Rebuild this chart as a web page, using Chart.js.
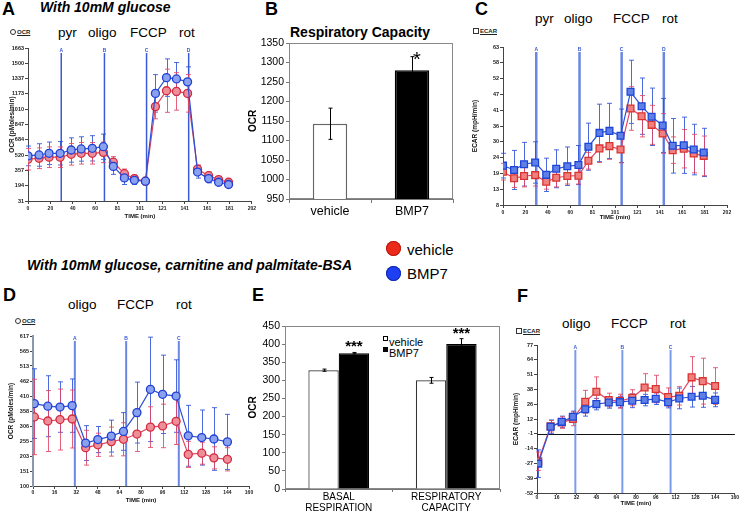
<!DOCTYPE html>
<html><head><meta charset="utf-8">
<script src="https://cdn.jsdelivr.net/npm/chart.js@4.4.1/dist/chart.umd.min.js"></script>
<style>
html,body{margin:0;padding:0;background:#fff}
#fig{position:relative;width:741px;height:513px;overflow:hidden;font-family:'Liberation Sans',Arial,sans-serif;color:#000}
#fig canvas{position:absolute}
.t{position:absolute;white-space:nowrap;line-height:1}
.L{font-weight:bold;font-size:18px}
.ti{font-weight:bold;font-style:italic;font-size:14px}
.d{font-size:13.5px}
.dot{position:absolute;border-radius:50%;width:15px;height:15px}
.lg{font-size:15px}
.sm{font-size:6px;font-weight:bold;color:#222}
.sm u{text-decoration:underline}
.ci{display:inline-block;width:4px;height:4px;border:1px solid #333;border-radius:50%;margin-right:1px;vertical-align:-1px}
.sq{display:inline-block;width:4px;height:4px;border:1px solid #333;margin-right:1px;vertical-align:-1px}
.el{font-size:11px}
.es{display:inline-block;width:3px;height:3px;border:1px solid #000;vertical-align:5px;margin-right:1px}
</style></head><body><div id="fig">

<div class="t L" style="left:2px;top:0px">A</div>
<div class="t ti" style="left:40px;top:0px">With 10mM glucose</div>
<div class="t L" style="left:265px;top:0px">B</div>
<div class="t" style="left:290px;top:25px;font-weight:bold;font-size:14px">Respiratory Capacity</div>
<div class="t L" style="left:475px;top:0px">C</div>

<div class="t d" style="left:58px;top:26px">pyr</div>
<div class="t d" style="left:88px;top:26px">oligo</div>
<div class="t d" style="left:130px;top:26px">FCCP</div>
<div class="t d" style="left:179px;top:26px">rot</div>

<div class="t d" style="left:535px;top:12px">pyr</div>
<div class="t d" style="left:564px;top:12px">oligo</div>
<div class="t d" style="left:613px;top:12px">FCCP</div>
<div class="t d" style="left:662px;top:12px">rot</div>

<div class="t sm" style="left:10px;top:29px"><span class="ci"></span><u>OCR</u></div>
<div class="t sm" style="left:473px;top:28px"><span class="sq"></span><u>ECAR</u></div>

<div class="dot" style="left:386px;top:241px;background:#ec2a1c;box-shadow:inset 0 0 0 1px #b81a10"></div>
<div class="t lg" style="left:407px;top:242px">vehicle</div>
<div class="dot" style="left:386px;top:266px;background:#1f3ff2;box-shadow:inset 0 0 0 1px #1228b0"></div>
<div class="t lg" style="left:407px;top:266px">BMP7</div>

<div class="t ti" style="left:27px;top:258px">With 10mM glucose, carnitine and palmitate-BSA</div>
<div class="t L" style="left:3px;top:286px">D</div>
<div class="t L" style="left:252px;top:286px">E</div>
<div class="t L" style="left:517px;top:287px">F</div>

<div class="t d" style="left:68px;top:298px">oligo</div>
<div class="t d" style="left:117px;top:298px">FCCP</div>
<div class="t d" style="left:176px;top:298px">rot</div>

<div class="t d" style="left:562px;top:317px">oligo</div>
<div class="t d" style="left:611px;top:317px">FCCP</div>
<div class="t d" style="left:670px;top:317px">rot</div>

<div class="t sm" style="left:15px;top:318px"><span class="ci"></span><u>OCR</u></div>
<div class="t sm" style="left:516px;top:328px"><span class="sq"></span><u>ECAR</u></div>

<div class="t el" style="left:383px;top:336px"><span class="es" style="background:#fff"></span>vehicle</div>
<div class="t el" style="left:383px;top:347px"><span class="es" style="background:#000"></span>BMP7</div>

<canvas id="cA" width="258" height="195" style="left:0px;top:30px"></canvas>
<canvas id="cB" width="215" height="200" style="left:245px;top:25px"></canvas>
<canvas id="cC" width="266" height="200" style="left:470px;top:30px"></canvas>
<canvas id="cD" width="256" height="195" style="left:0px;top:318px"></canvas>
<canvas id="cE" width="260" height="205" style="left:245px;top:308px"></canvas>
<canvas id="cF" width="236" height="186" style="left:505px;top:327px"></canvas>
</div>
<script>
// ---------- DATA ----------
// Panels A & C (time in minutes)
const timeAC = [0,10,19,29,39,48,58,68,77,87,96,106,115,125,134,144,153,163,172,181];
const acXLabels = ['0','20','40','60','81','101','121','141','161','181','202'];
const acInjections = [30,69,107,145];
const acInjLabels = ['A','B','C','D'];

const aVehicle    = [477,487,498,498,529,540,540,550,445,322,270,242,1038,1207,1200,1179,371,301,259,231];
const aVehicleErr = [115,110,110,110,115,115,115,110,60,50,40,35,130,230,200,200,45,40,35,30];
const aBMP7       = [512,522,540,540,575,586,593,610,400,277,252,242,1179,1347,1333,1302,340,270,231,207];
const aBMP7Err    = [105,120,120,125,130,130,135,135,85,70,45,40,200,200,175,160,65,45,35,30];
const aYLabels = ['31','194','357','520','684','847','1010','1173','1337','1500','1663'];

const cVehicle    = [19.6,17.3,18.1,18.4,16.1,17.5,18.1,18.2,23.4,27.7,28.5,27.3,41.6,38.9,35.9,32.9,27.1,27.6,25.9,25.1];
const cVehicleErr = [2.9,3.2,3.8,3.8,2.6,3.2,2.8,2.9,2.9,4.9,4.6,4.6,7.6,7.2,6.8,6.9,4.6,6.7,6.7,6.9];
const cBMP7       = [21.7,20.2,22.2,22.8,18.5,20.6,21.5,21.9,28.3,33.1,33.8,32.1,47.4,42.4,38.7,35.7,28.6,28.8,27.3,26.3];
const cBMP7Err    = [4.3,6.8,7.6,7.2,5.8,6.6,6.7,6.8,8.2,10,9.6,9.3,11,9.8,10,9.4,9.5,9.8,8.8,8.4];
const cYLabels = ['8','13','19','24','30','36','41','47','52','58','63'];

// Panel B
const bCategories = ['vehicle','BMP7'];
const bValues = [1143,1280];
const bErr = [40,35];

// Panels D & F
const timeDF = [1,11,20,29,39,48,58,67,77,87,96,106,115,125,134,144];
const dfXLabels = ['0','16','32','48','64','80','96','112','128','144','160'];
const dfInjections = [31,69,108];
const dfInjLabels = ['A','B','C'];

const dVehicle    = [338,324,329,331,232,242,253,261,279,303,307,323,209,213,197,192];
const dVehicleErr = [130,105,105,100,60,40,50,57,60,70,75,80,45,38,38,40];
const dBMP7       = [384,375,372,377,248,260,272,288,353,433,416,410,273,267,262,252];
const dBMP7Err    = [120,105,87,92,60,45,55,65,105,180,135,125,105,95,108,95];
const dYLabels = ['100','151','203','255','306','358','410','462','513','565','617'];

const fVehicle    = [-24.3,6.2,9.4,12.6,27.5,36.2,29,28.1,31,40,38.6,31.6,32.7,48.8,45.5,41.2];
const fVehicleErr = [8,5,5,6,10,13,6,6,7,12,12,8,8,18,20,16];
const fBMP7       = [-26.4,5.7,10,14.4,21,25.5,26.9,27.2,28.4,29,30.1,27.2,30.4,31.9,32.7,29.2];
const fBMP7Err    = [12,6,5,5,6,5,5,5,6,5,5,5,9,9,10,6];
const fYLabels = ['-52','-39','-27','-14','-1','12','26','38','51','64','77'];

// Panel E
const eCategories = [['BASAL','RESPIRATION'],['RESPIRATORY','CAPACITY']];
const eVehicle = [328,300];
const eVehicleErr = [3,8];
const eBMP7 = [375,400];
const eBMP7Err = [2,15];

// ---------- DRAWING ----------
const FONT = "'Liberation Sans', Arial, sans-serif";
function evenTicks(min,max,n){const a=[];for(let i=0;i<n;i++)a.push(min+i*(max-min)/(n-1));return a;}

function drawErrors(chart, ctx){
  chart.data.datasets.forEach((ds,di)=>{
    if(!ds.errors) return;
    const meta = chart.getDatasetMeta(di);
    const ys = chart.scales[meta.yAxisID];
    ctx.strokeStyle = ds.errColor; ctx.lineWidth = ds.errWidth || 1;
    meta.data.forEach((el,j)=>{
      const raw = ds.data[j]; const v = (raw && typeof raw==='object') ? raw.y : raw;
      const e = ds.errors[j]; const x = Math.round(el.x)+0.5;
      const y1 = ys.getPixelForValue(v+e), y2 = ys.getPixelForValue(v-e);
      const c = ds.capW || 2.5;
      ctx.beginPath(); ctx.moveTo(x,y1); ctx.lineTo(x,y2);
      ctx.moveTo(x-c,y1); ctx.lineTo(x+c,y1); ctx.moveTo(x-c,y2); ctx.lineTo(x+c,y2); ctx.stroke();
    });
  });
}

function overlay(o){
  return {
    id:'ov',
    beforeDatasetsDraw(chart){
      const {ctx, chartArea:a, scales} = chart;
      ctx.save();
      if(o.frame){ctx.strokeStyle=o.frame;ctx.lineWidth=1;ctx.strokeRect(a.left+0.5,a.top+0.5,a.width-1,a.height-1);}
      if(o.hline!==undefined){
        const y=Math.round(scales.y.getPixelForValue(o.hline))+0.5;
        ctx.strokeStyle='#111';ctx.lineWidth=1;ctx.beginPath();ctx.moveTo(a.left,y);ctx.lineTo(a.right,y);ctx.stroke();
      }
      if(o.vlines){
        o.vlines.forEach((t,i)=>{
          const x=scales.x.getPixelForValue(t);
          ctx.strokeStyle=o.vColor;ctx.lineWidth=o.vWidth;
          ctx.beginPath();ctx.moveTo(x,a.top+5);ctx.lineTo(x,a.bottom);ctx.stroke();
          ctx.fillStyle=o.vText;ctx.font='bold 5px '+FONT;ctx.textAlign='center';ctx.textBaseline='alphabetic';
          ctx.fillText(o.vLabels[i],x,a.top+3.5);
        });
      }
      if(!o.errAfter) drawErrors(chart,ctx);
      ctx.restore();
    },
    afterDatasetsDraw(chart){
      const {ctx} = chart;
      ctx.save();
      if(o.errAfter) drawErrors(chart,ctx);
      if(o.stars){
        o.stars.forEach(s=>{
          const ds=chart.data.datasets[s.ds];const el=chart.getDatasetMeta(s.ds).data[s.i];
          const y=chart.scales.y.getPixelForValue(ds.data[s.i]+ds.errors[s.i]);
          ctx.fillStyle='#000';ctx.font=s.font;ctx.textAlign='center';ctx.textBaseline='alphabetic';
          ctx.fillText(s.text,el.x+(s.dx||0),y+(s.dy||0));
        });
      }
      ctx.restore();
    }
  };
}

const STY = {
  b:{circle:{line:'#2b4fd6',fill:'#8aa2ee',edge:'#1f3fd6',err:'rgba(45,80,215,0.85)'},
     rect:{line:'#2b4fd6',fill:'#5d7fe6',edge:'#1d44d8',err:'rgba(45,80,215,0.85)'}},
  r:{circle:{line:'#e34561',fill:'#ee8e9a',edge:'#d42a3c',err:'rgba(225,70,100,0.85)'},
     rect:{line:'#e34561',fill:'#f08080',edge:'#d9332f',err:'rgba(225,70,100,0.85)'}}
};

function linePanel(id,p){
  const datasets = p.series.map(s=>{
    const st = STY[s.kind][p.shape];
    return {label:s.label, data:p.time.map((t,i)=>({x:t,y:s.values[i]})), errors:s.errors, errColor:st.err,
      borderColor:st.line, borderWidth:1.2, pointStyle:p.shape, pointRadius:p.pr,
      pointBackgroundColor:st.fill, pointBorderColor:st.edge, pointBorderWidth:1.3, tension:0, fill:false};
  });
  new Chart(document.getElementById(id),{
    type:'line', data:{datasets},
    options:{responsive:false,animation:false,devicePixelRatio:1,events:[],
      layout:{padding:{top:p.pad[0],right:p.pad[1],bottom:0,left:0}},
      plugins:{legend:{display:false},tooltip:{enabled:false}},
      scales:{
        x:{type:'linear',min:p.xmin,max:p.xmax,
          afterBuildTicks:sc=>{sc.ticks=evenTicks(p.xmin,p.xmax,p.xLabels.length).map(v=>({value:v}));},
          afterFit:sc=>{sc.height=p.xH;},
          ticks:{autoSkip:false,maxRotation:0,padding:p.xtp,color:'#222',font:{family:FONT,size:5,weight:'bold'},callback:(v,i)=>p.xLabels[i]},
          grid:{drawOnChartArea:false,tickLength:p.xtl,color:'#444'},
          border:{color:'#444',width:1},
          title:{display:true,text:'TIME (min)',color:'#111',font:{family:FONT,size:6,weight:'bold'},padding:{top:0,bottom:p.xtb}}},
        y:{type:'linear',min:p.ymin,max:p.ymax,
          afterBuildTicks:sc=>{sc.ticks=evenTicks(p.ymin,p.ymax,p.yLabels.length).map(v=>({value:v}));},
          afterFit:sc=>{sc.width=p.yW;},
          ticks:{autoSkip:false,padding:1,color:'#222',font:{family:FONT,size:5.5,weight:'bold'},callback:(v,i)=>p.yLabels[i]},
          grid:{drawOnChartArea:false,tickLength:3,color:'#444'},
          border:{color:p.yBorder||'#444',width:p.yBW||1},
          title:{display:true,text:p.yTitle,color:'#111',font:{family:FONT,size:6.5,weight:'bold'},padding:{top:p.ytt,bottom:0}}}
      }},
    plugins:[overlay(p.ov)]
  });
}

linePanel('cA',{time:timeAC,shape:'circle',pr:4,
  series:[{label:'BMP7',kind:'b',values:aBMP7,errors:aBMP7Err},{label:'vehicle',kind:'r',values:aVehicle,errors:aVehicleErr}],
  xmin:0,xmax:202,xLabels:acXLabels,ymin:31,ymax:1663,yLabels:aYLabels,yTitle:'OCR (pMoles/min)',
  yW:28,xH:24,pad:[18,6],xtp:2,xtl:3,xtb:5.4,ytt:8,
  ov:{vlines:acInjections,vLabels:acInjLabels,vColor:'#3a5ad6',vWidth:1.5,vText:'#3a5ad6'}});

linePanel('cC',{time:timeAC,shape:'rect',pr:4.8,
  series:[{label:'BMP7',kind:'b',values:cBMP7,errors:cBMP7Err},{label:'vehicle',kind:'r',values:cVehicle,errors:cVehicleErr}],
  xmin:0,xmax:202,xLabels:acXLabels,ymin:8,ymax:63,yLabels:cYLabels,yTitle:'ECAR (mpH/min)',
  yW:33,xH:25,pad:[17,9],xtp:2,xtl:3,xtb:9.4,ytt:1.5,
  ov:{vlines:acInjections,vLabels:acInjLabels,vColor:'rgba(70,105,220,0.8)',vWidth:2.5,vText:'#3a5ad6'}});

linePanel('cD',{time:timeDF,shape:'circle',pr:4,
  series:[{label:'BMP7',kind:'b',values:dBMP7,errors:dBMP7Err},{label:'vehicle',kind:'r',values:dVehicle,errors:dVehicleErr}],
  xmin:0,xmax:160,xLabels:dfXLabels,ymin:100,ymax:617,yLabels:dYLabels,yTitle:'OCR (pMoles/min)',
  yW:33,xH:27,pad:[18,7],xtp:1,xtl:3,xtb:9.4,ytt:7,yBorder:'#8a97b0',yBW:2,
  ov:{vlines:dfInjections,vLabels:dfInjLabels,vColor:'rgba(70,105,220,0.8)',vWidth:2,vText:'#3a5ad6'}});

linePanel('cF',{time:timeDF,shape:'rect',pr:4.8,
  series:[{label:'BMP7',kind:'b',values:fBMP7,errors:fBMP7Err},{label:'vehicle',kind:'r',values:fVehicle,errors:fVehicleErr}],
  xmin:0,xmax:160,xLabels:dfXLabels,ymin:-52,ymax:77,yLabels:fYLabels,yTitle:'ECAR (mpH/min)',
  yW:32,xH:20,pad:[18,3],xtp:0,xtl:2,xtb:6.4,ytt:7,
  ov:{hline:-1,vlines:dfInjections,vLabels:dfInjLabels,vColor:'rgba(90,130,230,0.8)',vWidth:2,vText:'#3a5ad6'}});

// Panel B
new Chart(document.getElementById('cB'),{
  type:'bar',
  data:{labels:bCategories,datasets:[{label:'Respiratory Capacity',data:bValues,errors:bErr,errColor:'#000',capW:2,
    backgroundColor:['#ffffff','#000000'],borderColor:['#666666','#000000'],borderWidth:1.5,
    categoryPercentage:1,barPercentage:0.42}]},
  options:{responsive:false,animation:false,devicePixelRatio:1,events:[],
    layout:{padding:{top:18,right:7,bottom:0,left:0}},
    plugins:{legend:{display:false},tooltip:{enabled:false}},
    scales:{
      x:{afterFit:sc=>{sc.height=26;},ticks:{color:'#000',padding:1.5,font:{family:FONT,size:12.5}},
        grid:{offset:true,drawOnChartArea:false,tickLength:4,color:'#777'},border:{color:'#777'}},
      y:{min:950,max:1350,afterFit:sc=>{sc.width=44;},
        ticks:{stepSize:50,color:'#000',padding:2,font:{family:FONT,size:10.5},callback:v=>String(v)},
        grid:{drawOnChartArea:false,tickLength:3,color:'#777'},border:{color:'#777'},
        title:{display:true,text:'OCR',color:'#000',font:{family:FONT,size:10,weight:'bold'},padding:{top:2,bottom:0}}}
    }},
  plugins:[overlay({frame:'#888',errAfter:true,stars:[{ds:0,i:1,text:'*',font:'20px '+FONT,dx:5,dy:9}]})]
});

// Panel E
new Chart(document.getElementById('cE'),{
  type:'bar',
  data:{labels:eCategories,datasets:[
    {label:'vehicle',data:eVehicle,errors:eVehicleErr,errColor:'#000',capW:2,backgroundColor:'#fff',borderColor:'#333',borderWidth:1.2,categoryPercentage:0.565,barPercentage:1},
    {label:'BMP7',data:eBMP7,errors:eBMP7Err,errColor:'#000',capW:2,backgroundColor:'#000',borderColor:'#000',borderWidth:1.2,categoryPercentage:0.565,barPercentage:1}]},
  options:{responsive:false,animation:false,devicePixelRatio:1,events:[],
    layout:{padding:{top:18,right:5,bottom:0,left:0}},
    plugins:{legend:{display:false},tooltip:{enabled:false}},
    scales:{
      x:{afterFit:sc=>{sc.height=24;},ticks:{color:'#000',padding:0,autoSkip:false,maxRotation:0,font:{family:FONT,size:10,lineHeight:1.1}},
        grid:{offset:true,drawOnChartArea:false,tickLength:3,color:'#777'},border:{color:'#777'}},
      y:{min:0,max:450,afterFit:sc=>{sc.width=40;},
        ticks:{stepSize:50,color:'#000',padding:2,font:{family:FONT,size:10.5},callback:v=>String(v)},
        grid:{drawOnChartArea:false,tickLength:3,color:'#777'},border:{color:'#777'},
        title:{display:true,text:'OCR',color:'#000',font:{family:FONT,size:10,weight:'bold'},padding:{top:2,bottom:0}}}
    }},
  plugins:[overlay({frame:'#888',errAfter:true,stars:[
    {ds:1,i:0,text:'***',font:'bold 15px '+FONT,dy:-1},
    {ds:1,i:1,text:'***',font:'bold 15px '+FONT,dy:-1}]})]
});
</script>
</body></html>
